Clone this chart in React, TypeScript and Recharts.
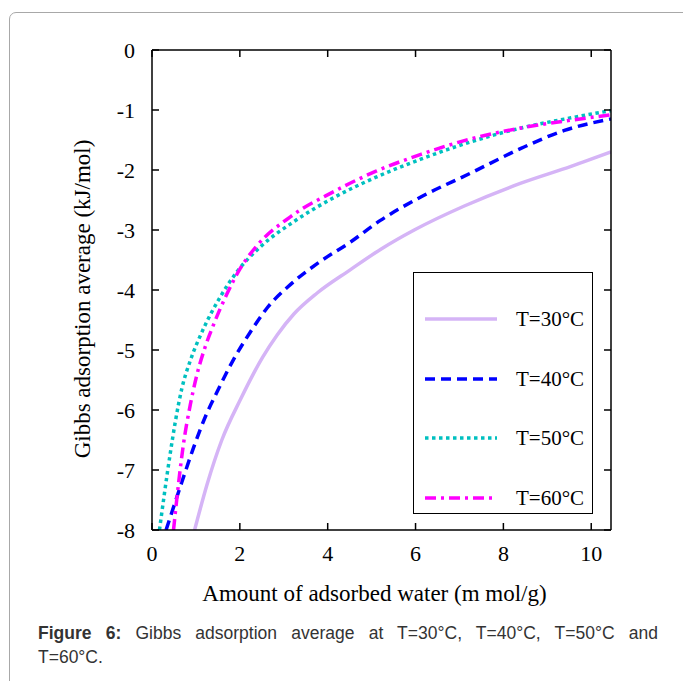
import { LineChart, Line, XAxis, YAxis, Legend } from 'recharts';

// amount of adsorbed water (m mol/g) vs Gibbs adsorption average (kJ/mol)
const T30: [number, number][] = [
  [0.97, -8.0], [1.25, -7.25], [1.59, -6.5], [2.01, -5.83], [2.52, -5.12], [2.85, -4.75],
  [3.23, -4.4], [3.76, -4.05], [4.52, -3.66], [5.21, -3.32], [5.97, -3.0], [7.11, -2.6],
  [8.4, -2.22], [9.54, -1.94], [10.45, -1.7],
];
const T40: [number, number][] = [
  [0.32, -8.0], [0.68, -7.2], [0.94, -6.64], [1.21, -6.12], [1.48, -5.7], [1.84, -5.18],
  [2.24, -4.7], [2.62, -4.3], [3.15, -3.91], [3.76, -3.56], [4.52, -3.2], [5.2, -2.84],
  [6.12, -2.45], [7.26, -2.05], [8.4, -1.64], [9.39, -1.34], [10.45, -1.15],
];
const T50: [number, number][] = [
  [0.17, -8.0], [0.41, -6.75], [0.53, -6.2], [0.68, -5.64], [0.88, -5.16], [1.15, -4.68],
  [1.55, -4.12], [1.93, -3.7], [2.47, -3.28], [3.23, -2.86], [4.14, -2.46], [5.1, -2.12],
  [6.12, -1.82], [7.26, -1.53], [8.4, -1.3], [9.54, -1.13], [10.45, -1.01],
];
const T60: [number, number][] = [
  [0.49, -8.0], [0.6, -7.25], [0.71, -6.6], [0.87, -5.92], [1.02, -5.42], [1.21, -4.95],
  [1.4, -4.58], [1.71, -4.06], [2.01, -3.64], [2.39, -3.26], [3.15, -2.78], [4.14, -2.36],
  [5.1, -2.02], [6.12, -1.74], [7.26, -1.48], [8.4, -1.3], [9.54, -1.17], [10.45, -1.08],
];

const X_TICKS = [0, 2, 4, 6, 8, 10];
const Y_TICKS = [-8, -7, -6, -5, -4, -3, -2, -1, 0];

const SERIES = [
  { name: 'T=30°C', points: T30, color: '#d5b4f6', dash: undefined as string | undefined },
  { name: 'T=40°C', points: T40, color: '#0000ff', dash: '10 6' },
  { name: 'T=50°C', points: T50, color: '#00c0c0', dash: '3.5 3.5' },
  { name: 'T=60°C', points: T60, color: '#ff00ff', dash: '11 5 3 5' },
];

const toPoints = (pts: [number, number][]) => pts.map(([x, y]) => ({ x, y }));

const SERIF = '"Liberation Serif", "Times New Roman", serif';
const TICK_LEN = 7;
const BOTTOM_MARGIN = 8;
const LEFT_MARGIN = 17;

// tick labels plus inward tick marks (tickSize is 0, so the axis line sits tickMargin away)
function BottomTick({ x, y, payload }: any) {
  const axisY = y - BOTTOM_MARGIN;
  return (
    <g>
      <line x1={x} x2={x} y1={axisY} y2={axisY - TICK_LEN} stroke="#000" strokeWidth={1.5} />
      <text x={x} y={y + 23} textAnchor="middle" fontSize={22} fontFamily={SERIF} fill="#000">
        {payload.value}
      </text>
    </g>
  );
}

function LeftTick({ x, y, payload }: any) {
  const axisX = x + LEFT_MARGIN;
  return (
    <g>
      <line x1={axisX} x2={axisX + TICK_LEN} y1={y} y2={y} stroke="#000" strokeWidth={1.5} />
      <text x={x} y={y + 7.5} textAnchor="end" fontSize={22} fontFamily={SERIF} fill="#000">
        {payload.value}
      </text>
    </g>
  );
}

function TopTick({ x, y }: any) {
  return <line x1={x} x2={x} y1={y} y2={y + TICK_LEN} stroke="#000" strokeWidth={1.5} />;
}

function RightTick({ x, y }: any) {
  return <line x1={x} x2={x - TICK_LEN} y1={y} y2={y} stroke="#000" strokeWidth={1.5} />;
}

function LegendBox() {
  return (
    <div
      style={{
        position: 'relative',
        width: 180,
        height: 242,
        border: '1.5px solid #000',
        boxSizing: 'border-box',
        background: '#fff',
      }}
    >
      {SERIES.map((s, i) => (
        <div
          key={s.name}
          style={{ position: 'absolute', left: 0, top: 46 + i * 59.5 - 15, height: 30, width: 180 }}
        >
          <svg width={90} height={30} style={{ position: 'absolute', left: 0, top: 0 }}>
            <line x1={11} x2={83} y1={15} y2={15} stroke={s.color} strokeWidth={3.5} strokeDasharray={s.dash} />
          </svg>
          <span
            style={{
              position: 'absolute',
              left: 102,
              top: 0,
              lineHeight: '30px',
              fontSize: 21,
              fontFamily: SERIF,
              color: '#000',
              whiteSpace: 'nowrap',
            }}
          >
            {s.name}
          </span>
        </div>
      ))}
    </div>
  );
}

const axisLine = { stroke: '#000', strokeWidth: 1.5 };

export default function App() {
  return (
    <div style={{ position: 'absolute', left: 0, top: 0, width: 683, height: 681, overflow: 'hidden', background: '#fff' }}>
      <div
        style={{
          position: 'absolute',
          left: 9,
          top: 12,
          width: 720,
          height: 720,
          border: '1px solid #a8a8a8',
          borderRadius: 7,
        }}
      />
      <div style={{ position: 'absolute', left: 0, top: 0 }}>
        <LineChart width={683} height={681} margin={{ top: 49, right: 71, bottom: 121, left: 112 }}>
          <XAxis
            xAxisId="b"
            type="number"
            dataKey="x"
            domain={[0, 10.45]}
            ticks={X_TICKS}
            allowDataOverflow
            height={30}
            tickSize={0}
            tickMargin={BOTTOM_MARGIN}
            tick={<BottomTick />}
            tickLine={false}
            axisLine={axisLine}
            label={{
              content: ({ viewBox }: any) => (
                <text
                  x={viewBox.x + viewBox.width / 2 - 7}
                  y={viewBox.y + 63}
                  textAnchor="middle"
                  dominantBaseline="central"
                  fontSize={23}
                  fontFamily={SERIF}
                  fill="#000"
                >
                  Amount of adsorbed water (m mol/g)
                </text>
              ),
            }}
          />
          <XAxis
            xAxisId="t"
            orientation="top"
            type="number"
            dataKey="x"
            domain={[0, 10.45]}
            ticks={X_TICKS}
            allowDataOverflow
            height={1}
            tickSize={0}
            tickMargin={0}
            tick={<TopTick />}
            tickLine={false}
            axisLine={axisLine}
          />
          <YAxis
            yAxisId="l"
            type="number"
            dataKey="y"
            domain={[-8, 0]}
            ticks={Y_TICKS}
            allowDataOverflow
            width={40}
            tickSize={0}
            tickMargin={LEFT_MARGIN}
            tick={<LeftTick />}
            tickLine={false}
            axisLine={axisLine}
            label={{
              content: ({ viewBox }: any) => {
                const cx = viewBox.x - 30;
                const cy = viewBox.y + viewBox.height / 2 + 9;
                return (
                  <text
                    x={cx}
                    y={cy}
                    transform={`rotate(-90 ${cx} ${cy})`}
                    textAnchor="middle"
                    dominantBaseline="central"
                    fontSize={23}
                    fontFamily={SERIF}
                    fill="#000"
                  >
                    Gibbs adsorption average (kJ/mol)
                  </text>
                );
              },
            }}
          />
          <YAxis
            yAxisId="r"
            orientation="right"
            type="number"
            dataKey="y"
            domain={[-8, 0]}
            ticks={Y_TICKS}
            allowDataOverflow
            width={1}
            tickSize={0}
            tickMargin={0}
            tick={<RightTick />}
            tickLine={false}
            axisLine={axisLine}
          />
          {SERIES.map((s) => (
            <Line
              key={s.name}
              xAxisId="b"
              yAxisId="l"
              data={toPoints(s.points)}
              dataKey="y"
              name={s.name}
              type="monotone"
              stroke={s.color}
              strokeWidth={3.5}
              strokeDasharray={s.dash}
              dot={false}
              activeDot={false}
              isAnimationActive={false}
            />
          ))}
          <Legend
            layout="vertical"
            align="center"
            verticalAlign="middle"
            content={() => <LegendBox />}
            wrapperStyle={{ left: 413, top: 272, width: 180, height: 242 }}
          />
        </LineChart>
      </div>
      <div
        style={{
          position: 'absolute',
          left: 38,
          top: 621,
          width: 620,
          fontFamily: '"Liberation Sans", Arial, sans-serif',
          fontSize: 17.5,
          lineHeight: '24px',
          color: '#333',
        }}
      >
        <div style={{ textAlign: 'justify', textAlignLast: 'justify' }}>
          <b>Figure 6:</b> Gibbs adsorption average at T=30°C, T=40°C, T=50°C and
        </div>
        <div>T=60°C.</div>
      </div>
    </div>
  );
}
